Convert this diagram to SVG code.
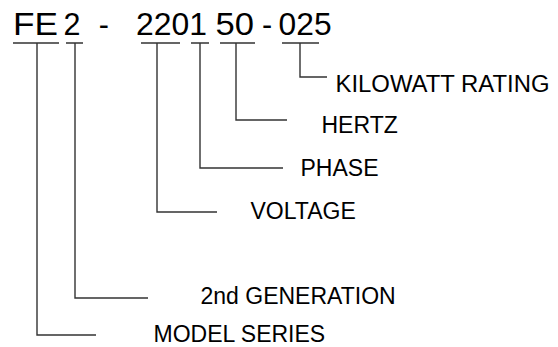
<svg xmlns="http://www.w3.org/2000/svg" width="558" height="347" viewBox="0 0 558 347">
<style>
text{font-family:"Liberation Sans",Arial,sans-serif;fill:#000}
.code{font-size:30.5px}
.lbl{font-size:23px}
.c{fill:none;stroke:#333;stroke-width:1.4}
</style>
<rect width="558" height="347" fill="#fff"/>
<g id="code">
<text class="code" x="13" y="35" textLength="45" lengthAdjust="spacingAndGlyphs">FE</text>
<text class="code" x="63.5" y="35">2</text>
<text class="code" x="98.7" y="35">-</text>
<text class="code" x="136" y="35" textLength="71" lengthAdjust="spacingAndGlyphs">2201</text>
<text class="code" x="215.5" y="35" textLength="38.5" lengthAdjust="spacingAndGlyphs">50</text>
<text class="code" x="262" y="35">-</text>
<text class="code" x="278.6" y="35" textLength="53" lengthAdjust="spacingAndGlyphs">025</text>
</g>
<g id="connectors">
<path class="c" d="M13 43H59M37 43V335H96"/>
<path class="c" d="M66 43H83M75 43V298H148"/>
<path class="c" d="M141 43H180M157 43V212H217"/>
<path class="c" d="M191 43H209M200 43V168H283"/>
<path class="c" d="M220 43H255M236 43V120H287"/>
<path class="c" d="M282 43H319M300 43V77H327"/>
</g>
<g id="kw"><text class="lbl" x="335.5" y="91.5" textLength="214" lengthAdjust="spacingAndGlyphs">KILOWATT RATING</text></g>
<g id="hz"><text class="lbl" x="321.5" y="133">HERTZ</text></g>
<g id="ph"><text class="lbl" x="300.5" y="176">PHASE</text></g>
<g id="volt"><text class="lbl" x="250.5" y="219">VOLTAGE</text></g>
<g id="gen"><text class="lbl" x="200.5" y="303.5">2nd GENERATION</text></g>
<g id="model"><text class="lbl" x="153.5" y="342">MODEL SERIES</text></g>
</svg>
